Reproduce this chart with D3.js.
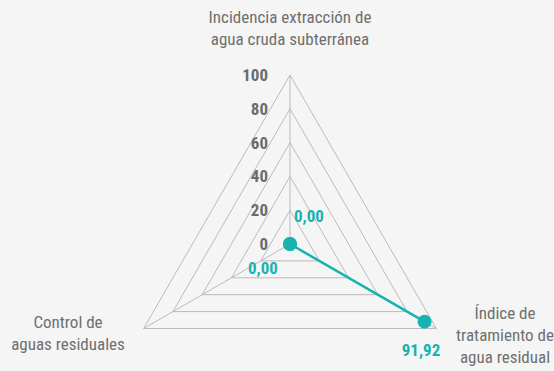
<!DOCTYPE html>
<html><head><meta charset="utf-8">
<script src="https://cdn.jsdelivr.net/npm/d3@7"></script>
<style>
html,body{margin:0;padding:0;background:#f5f5f5;}
svg{display:block;}
text{font-family:"Liberation Sans Narrow","Roboto Condensed",Roboto,sans-serif;}
</style></head><body>
<svg id="c" width="554" height="371"></svg>
<script>
const axes = ["Incidencia extracción de agua cruda subterránea","Índice de tratamiento de agua residual","Control de aguas residuales"];
const axisLabelLines = [["Incidencia extracción de","agua cruda subterránea"],["Índice de","tratamiento de","agua residual"],["Control de","aguas residuales"]];
const values = [0, 91.92, 0];
const valueLabels = ["0,00","91,92","0,00"];
const ticks = [0,20,40,60,80,100];

const svg = d3.select("#c");
const cx = 290, cy = 244, R = 169;
const r = d3.scaleLinear().domain([0,100]).range([0,R]);
const ang = i => -Math.PI/2 + i*2*Math.PI/3;
const pt = (i,v) => [cx + r(v)*Math.cos(ang(i)), cy + r(v)*Math.sin(ang(i))];

const grid = svg.append("g").attr("stroke","#bbbbbb").attr("fill","none").attr("stroke-width",1);
ticks.filter(t=>t>0).forEach(t=>{
  grid.append("path").attr("d", d3.line()([0,1,2].map(i=>pt(i,t))) + "Z");
});
[0,1,2].forEach(i=>{
  grid.append("line").attr("x1",cx).attr("y1",cy).attr("x2",pt(i,100)[0]).attr("y2",pt(i,100)[1]);
});

svg.append("g").selectAll("text").data(ticks).join("text")
  .attr("x", cx-22).attr("y", d=>cy - r(d)).attr("dy","0.35em")
  .attr("text-anchor","end").attr("font-size",17).attr("font-weight","bold").attr("fill","#6b6b6b")
  .text(d=>d);

const teal = "#17b3b0";
svg.append("path").attr("d", d3.line()([0,1,2].map(i=>pt(i,values[i]))) + "Z")
  .attr("fill","none").attr("stroke",teal).attr("stroke-width",2.5);
svg.append("g").selectAll("circle").data(values).join("circle")
  .attr("cx",(d,i)=>pt(i,d)[0]).attr("cy",(d,i)=>pt(i,d)[1]).attr("r",7).attr("fill",teal);

const vlPos = [[cx+4, cy-28, "start"],[421, 350, "middle"],[248, 268, "start"]];
svg.append("g").selectAll("text").data(valueLabels).join("text")
  .attr("x",(d,i)=>vlPos[i][0]).attr("y",(d,i)=>vlPos[i][1]).attr("dy","0.35em")
  .attr("text-anchor",(d,i)=>vlPos[i][2]).attr("font-size",17).attr("font-weight","bold").attr("fill",teal)
  .text(d=>d);

const labPos = [[290, 17],[505, 313],[68, 322]];
axisLabelLines.forEach((lines,i)=>{
  const t = svg.append("text").attr("text-anchor","middle").attr("font-size",17).attr("fill","#6f6f6f");
  lines.forEach((l,j)=>{
    t.append("tspan").attr("x",labPos[i][0]).attr("y",labPos[i][1] + j*22).attr("dy","0.35em").text(l);
  });
});
</script>
</body></html>
